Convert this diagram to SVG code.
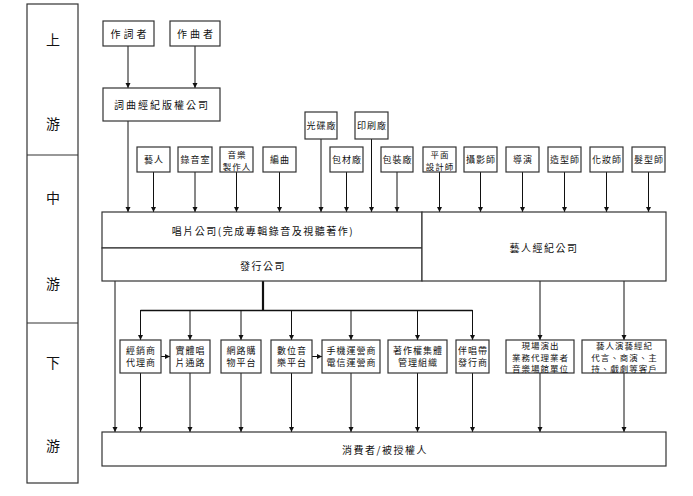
<svg xmlns="http://www.w3.org/2000/svg" width="693" height="496" viewBox="0 0 693 496">
<style>
.box{fill:#fff;stroke:#333;stroke-width:1.2}
.t{font-family:"Noto Sans CJK TC","Noto Sans CJK SC",sans-serif;fill:#111;text-anchor:middle;dominant-baseline:central}
.s9{font-size:9px;letter-spacing:1px}
.s8{font-size:8.5px;letter-spacing:1px}
.s10{font-size:10px;letter-spacing:1.5px}
.big{font-size:14px}
.ln{stroke:#111;stroke-width:1;fill:none}
.arr{marker-end:url(#ah)}
</style>
<defs>
<marker id="ah" markerUnits="userSpaceOnUse" markerWidth="6" markerHeight="6" refX="5" refY="2.5" orient="auto">
<path d="M0,0 L5,2.5 L0,5 z" fill="#111"/>
</marker>
</defs>
<rect width="693" height="496" fill="#fff"/>

<g id="stages">
<rect x="27" y="4" width="51" height="479" class="box"/>
<line x1="27" y1="155" x2="78" y2="155" stroke="#333" stroke-width="1.2"/>
<line x1="27" y1="323" x2="78" y2="323" stroke="#333" stroke-width="1.2"/>
<text class="t big" x="53" y="39">上</text>
<text class="t big" x="53" y="123">游</text>
<text class="t big" x="53" y="197">中</text>
<text class="t big" x="53" y="283">游</text>
<text class="t big" x="53" y="362">下</text>
<text class="t big" x="53" y="445">游</text>
</g>

<g id="connectors">
<line class="ln arr" x1="128" y1="46" x2="128" y2="88"/>
<line class="ln arr" x1="195" y1="46" x2="195" y2="88"/>
<line class="ln arr" x1="128" y1="121" x2="128" y2="212"/>
<line class="ln arr" x1="153.5" y1="172" x2="153.5" y2="212"/>
<line class="ln arr" x1="195" y1="172" x2="195" y2="212"/>
<line class="ln arr" x1="236.5" y1="172" x2="236.5" y2="212"/>
<line class="ln arr" x1="279.5" y1="172" x2="279.5" y2="212"/>
<line class="ln arr" x1="321" y1="139" x2="321" y2="212"/>
<line class="ln arr" x1="346.5" y1="172" x2="346.5" y2="212"/>
<line class="ln arr" x1="371.5" y1="139" x2="371.5" y2="212"/>
<line class="ln arr" x1="397" y1="172" x2="397" y2="212"/>
<line class="ln arr" x1="439.5" y1="172" x2="439.5" y2="212"/>
<line class="ln arr" x1="480.5" y1="172" x2="480.5" y2="212"/>
<line class="ln arr" x1="522.5" y1="172" x2="522.5" y2="212"/>
<line class="ln arr" x1="564.5" y1="172" x2="564.5" y2="212"/>
<line class="ln arr" x1="606.5" y1="172" x2="606.5" y2="212"/>
<line class="ln arr" x1="648.5" y1="172" x2="648.5" y2="212"/>

<line x1="263" y1="281" x2="263" y2="311" stroke="#111" stroke-width="2.2"/>
<line x1="140.5" y1="310.5" x2="472.5" y2="310.5" stroke="#111" stroke-width="1.6"/>
<line class="ln arr" x1="140.5" y1="310" x2="140.5" y2="340"/>
<line class="ln arr" x1="190" y1="310" x2="190" y2="340"/>
<line class="ln arr" x1="241" y1="310" x2="241" y2="340"/>
<line class="ln arr" x1="291.5" y1="310" x2="291.5" y2="340"/>
<line class="ln arr" x1="351" y1="310" x2="351" y2="340"/>
<line class="ln arr" x1="417.5" y1="310" x2="417.5" y2="340"/>
<line class="ln arr" x1="472.5" y1="310" x2="472.5" y2="340"/>
<line class="ln arr" x1="540" y1="281" x2="540" y2="340"/>
<line class="ln arr" x1="624" y1="281" x2="624" y2="340"/>
<line class="ln arr" x1="161" y1="356.5" x2="170" y2="356.5"/>
<line class="ln arr" x1="312" y1="356.5" x2="322" y2="356.5"/>

<line class="ln arr" x1="115" y1="281" x2="115" y2="432" stroke="#555"/>
<line class="ln arr" x1="140.5" y1="373" x2="140.5" y2="432"/>
<line class="ln arr" x1="190" y1="373" x2="190" y2="432"/>
<line class="ln arr" x1="241" y1="373" x2="241" y2="432"/>
<line class="ln arr" x1="291.5" y1="373" x2="291.5" y2="432"/>
<line class="ln arr" x1="351" y1="373" x2="351" y2="432"/>
<line class="ln arr" x1="417.5" y1="373" x2="417.5" y2="432"/>
<line class="ln arr" x1="472.5" y1="373" x2="472.5" y2="432"/>
<line class="ln arr" x1="540" y1="373" x2="540" y2="432"/>
<line class="ln arr" x1="624" y1="373" x2="624" y2="432"/>
</g>

<g id="n-lyricist"><rect class="box" x="103" y="21" width="51" height="25"/><text class="t s10" x="130" y="33.5" style="letter-spacing:3px">作詞者</text></g>
<g id="n-composer"><rect class="box" x="170" y="21" width="50" height="25"/><text class="t s10" x="196.5" y="33.5" style="letter-spacing:3px">作曲者</text></g>
<g id="n-publisher"><rect class="box" x="103" y="88" width="117" height="33"/><text class="t s10" x="162" y="104.5" style="letter-spacing:2px">詞曲經紀版權公司</text></g>

<g id="n-artist"><rect class="box" x="137" y="147" width="33" height="25"/><text class="t s9" x="154" y="159.5">藝人</text></g>
<g id="n-studio"><rect class="box" x="178" y="147" width="34" height="25"/><text class="t s9" x="195.5" y="159.5">錄音室</text></g>
<g id="n-producer"><rect class="box" x="220" y="147" width="33" height="25"/><text class="t s8" x="237" y="153.5">音樂</text><text class="t s8" x="237" y="165.5">製作人</text></g>
<g id="n-arranger"><rect class="box" x="263" y="147" width="33" height="25"/><text class="t s9" x="280" y="159.5">編曲</text></g>
<g id="n-disc"><rect class="box" x="305" y="112" width="32" height="27"/><text class="t s9" x="321.5" y="125.5">光碟廠</text></g>
<g id="n-packmat"><rect class="box" x="330" y="147" width="33" height="25"/><text class="t s9" x="347" y="159.5">包材廠</text></g>
<g id="n-print"><rect class="box" x="355" y="112" width="33" height="27"/><text class="t s9" x="372" y="125.5">印刷廠</text></g>
<g id="n-packing"><rect class="box" x="381" y="147" width="32" height="25"/><text class="t s9" x="397.5" y="159.5">包裝廠</text></g>
<g id="n-graphic"><rect class="box" x="423" y="147" width="33" height="25"/><text class="t s8" x="440" y="153.5">平面</text><text class="t s8" x="440" y="165.5">設計師</text></g>
<g id="n-photo"><rect class="box" x="464" y="147" width="33" height="25"/><text class="t s9" x="481" y="159.5">攝影師</text></g>
<g id="n-director"><rect class="box" x="506" y="147" width="33" height="25"/><text class="t s9" x="523" y="159.5">導演</text></g>
<g id="n-stylist"><rect class="box" x="548" y="147" width="33" height="25"/><text class="t s9" x="565" y="159.5">造型師</text></g>
<g id="n-makeup"><rect class="box" x="590" y="147" width="33" height="25"/><text class="t s9" x="607" y="159.5">化妝師</text></g>
<g id="n-hair"><rect class="box" x="632" y="147" width="33" height="25"/><text class="t s9" x="649" y="159.5">髮型師</text></g>

<g id="n-record"><rect class="box" x="102" y="212" width="320" height="36"/><text class="t s10" x="263" y="230">唱片公司(完成專輯錄音及視聽著作)</text></g>
<g id="n-distrib"><rect class="box" x="102" y="248" width="320" height="33"/><text class="t s10" x="263" y="265">發行公司</text></g>
<g id="n-agency"><rect class="box" x="422" y="212" width="244" height="69"/><text class="t s10" x="544" y="247">藝人經紀公司</text></g>

<g id="n-dealer"><rect class="box" x="120" y="340" width="41" height="33"/><text class="t s9" x="141" y="350.5">經銷商</text><text class="t s9" x="141" y="362.5">代理商</text></g>
<g id="n-physical"><rect class="box" x="170" y="340" width="40" height="33"/><text class="t s9" x="190.5" y="350.5">實體唱</text><text class="t s9" x="190.5" y="362.5">片通路</text></g>
<g id="n-eshop"><rect class="box" x="221" y="340" width="40" height="33"/><text class="t s9" x="241.5" y="350.5">網路購</text><text class="t s9" x="241.5" y="362.5">物平台</text></g>
<g id="n-digital"><rect class="box" x="271" y="340" width="41" height="33"/><text class="t s9" x="292" y="350.5">數位音</text><text class="t s9" x="292" y="362.5">樂平台</text></g>
<g id="n-telecom"><rect class="box" x="322" y="340" width="58" height="33"/><text class="t s9" x="351.5" y="350.5">手機運營商</text><text class="t s9" x="351.5" y="362.5">電信運營商</text></g>
<g id="n-cmo"><rect class="box" x="388" y="340" width="59" height="33"/><text class="t s9" x="418" y="350.5">著作權集體</text><text class="t s9" x="418" y="362.5">管理組織</text></g>
<g id="n-karaoke"><rect class="box" x="456" y="340" width="33" height="33"/><text class="t s9" x="473" y="350.5">伴唱帶</text><text class="t s9" x="473" y="362.5">發行商</text></g>
<g id="n-live"><rect class="box" x="506" y="340" width="68" height="33"/><text class="t s8" x="540.5" y="345">現場演出</text><text class="t s8" x="540.5" y="356.5">業務代理業者</text><text class="t s8" x="540.5" y="368">音樂場館單位</text></g>
<g id="n-clients"><rect class="box" x="582" y="340" width="84" height="33"/><text class="t s8" x="624.5" y="345">藝人演藝經紀</text><text class="t s8" x="624.5" y="356.5">代言、商演、主</text><text class="t s8" x="624.5" y="368">持、戲劇等客戶</text></g>

<g id="n-consumer"><rect class="box" x="102" y="432" width="564" height="34"/><text class="t s10" x="385" y="449">消費者/被授權人</text></g>
</svg>
